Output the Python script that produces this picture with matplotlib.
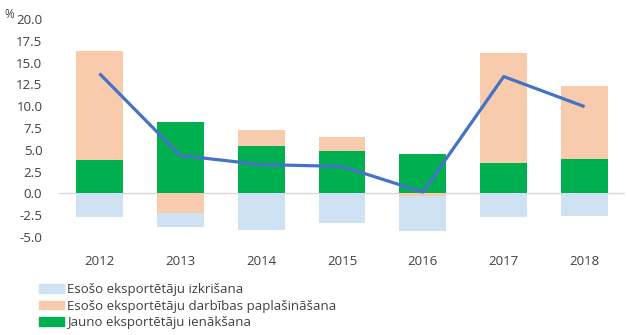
import numpy as np
import matplotlib
matplotlib.use("Agg")
import matplotlib.pyplot as plt
from matplotlib.patches import Patch

plt.rcParams['font.family'] = ['Open Sans', 'DejaVu Sans']
plt.rcParams['font.size'] = 9.5

years = ['2012', '2013', '2014', '2015', '2016', '2017', '2018']
# Jauno eksportētāju ienākšana
entry = [3.8, 8.15, 5.4, 4.85, 4.5, 3.45, 3.9]
# Esošo eksportētāju darbības paplašināšana
expansion = [12.5, -2.2, 1.85, 1.6, -0.25, 12.65, 8.4]
# Esošo eksportētāju izkrišana
exit_ = [-2.75, -1.7, -4.15, -3.45, -4.1, -2.75, -2.55]
# total line
total = [13.75, 4.35, 3.3, 3.1, 0.15, 13.4, 9.95]

c_exit = '#cfe2f3'
c_exp = '#f8cbad'
c_entry = '#00b050'
c_line = '#4472c4'

fig = plt.figure(figsize=(6.27, 3.35), dpi=100)
ax = fig.add_axes([59 / 627, (335 - 237) / 335, (625 - 59) / 627, (237 - 19) / 335])

x = np.arange(len(years))
w = 0.58
entry = np.array(entry)
expansion = np.array(expansion)
exit_ = np.array(exit_)

pos_base = np.where(entry > 0, entry, 0)
neg_base = np.zeros(len(x))

ax.bar(x, entry, w, color=c_entry, zorder=2)
# expansion stacks on green when positive, below zero when negative
exp_bottom = np.where(expansion >= 0, pos_base, neg_base)
ax.bar(x, expansion, w, bottom=exp_bottom, color=c_exp, zorder=2)
neg_base = neg_base + np.where(expansion < 0, expansion, 0)
ax.bar(x, exit_, w, bottom=neg_base, color=c_exit, zorder=2)

ax.plot(x, total, color=c_line, lw=2.3, zorder=3, solid_capstyle='butt')

ax.axhline(0, color='#d9d9d9', lw=1, zorder=1)

ax.set_xlim(-0.5, len(years) - 0.5)
ax.set_ylim(-5, 20)
ax.set_yticks(np.arange(-5, 20.1, 2.5))
ax.set_yticklabels([f'{v:.1f}' for v in np.arange(-5, 20.1, 2.5)], color='#404040')
ax.set_xticks(x)
ax.set_xticklabels(years, color='#404040')
ax.tick_params(axis='both', length=0)
ax.tick_params(axis='y', pad=12)
ax.tick_params(axis='x', pad=13)
for s in ax.spines.values():
    s.set_visible(False)

fig.text(4 / 627, 1 - 15 / 335, '%', fontsize=8.5, color='#404040', va='center')

handles = [Patch(color=c_exit), Patch(color=c_exp), Patch(color=c_entry)]
labels = ['Esošo eksportētāju izkrišana',
          'Esošo eksportētāju darbības paplašināšana',
          'Jauno eksportētāju ienākšana']
fig.legend(handles, labels, loc='upper left', bbox_to_anchor=(34 / 627, 1 - 278 / 335),
           frameon=False, handlelength=1.9, handleheight=0.65, handletextpad=0.2,
           labelspacing=0.25, fontsize=9.5, labelcolor='#404040', borderaxespad=0)

fig.savefig('out.png', dpi=100)
